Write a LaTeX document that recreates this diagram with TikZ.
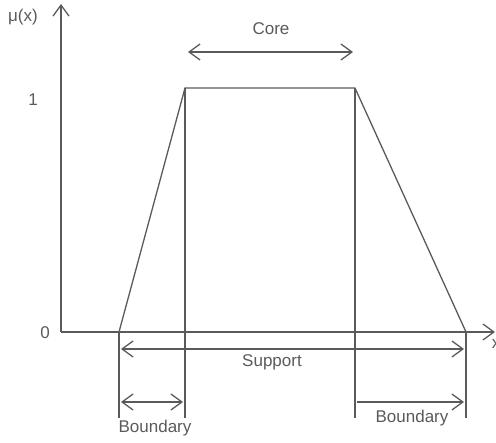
\documentclass[tikz,border=0pt]{standalone}
\usepackage{fontspec}
\setmainfont{Liberation Sans}
\usepackage{xcolor}
\definecolor{LineGray}{HTML}{5A5A5A}
\usetikzlibrary{arrows.meta,positioning}

\begin{document}
\begin{tikzpicture}[x=1pt,y=-1pt,line width=1.3pt,draw=LineGray,
  every node/.style={font=\fontsize{17}{20}\selectfont,text=LineGray},
  barb/.style={-{Straight Barb[length=11pt,width=16pt]}},
  twobarb/.style={{Straight Barb[length=11pt,width=16pt]}-{Straight Barb[length=11pt,width=16pt]}}]
  \useasboundingbox (0,0) rectangle (496,443);
  % axes
  \coordinate (o) at (61,332);
  \coordinate (ytop) at (61,4);
  \coordinate (xend) at (495,332);
  \draw[barb] (o) -- (ytop);
  \draw[barb] (o) -- (xend);
  \node (mu) at (23,17) {μ(x)};
  \node (one) at (33,100) {1};
  \node (zero) at (45,333) {0};
  \node[anchor=west] (xlab) at (488,344) {x};
  % trapezoid
  \coordinate (bl) at (119,332);
  \coordinate (tl) at (185,88);
  \coordinate (tr) at (355,88);
  \coordinate (br) at (466,332);
  \draw (bl) -- (tl) -- (tr) -- (br);
  % drop lines
  \foreach \c in {bl,tl,tr,br}{\draw (\c) -- (\c |- 0,418);}
  % core
  \coordinate (c1) at (188,52);
  \coordinate (c2) at (353,52);
  \draw[twobarb] (c1) -- (c2);
  \node (core) at (271,29) {Core};
  % support
  \coordinate (s1) at (121,349);
  \coordinate (s2) at (464,349);
  \draw[twobarb] (s1) -- (s2);
  \node (support) at (272,362) {Support};
  % boundaries
  \coordinate (b1) at (121,402);
  \coordinate (b2) at (183,402);
  \coordinate (b3) at (357,402);
  \coordinate (b4) at (464,402);
  \draw[twobarb] (b1) -- (b2);
  \draw[barb] (b3) -- (b4);
  \node (bdl) at (155,428) {Boundary};
  \node (bdr) at (412,418) {Boundary};
\end{tikzpicture}
\end{document}
